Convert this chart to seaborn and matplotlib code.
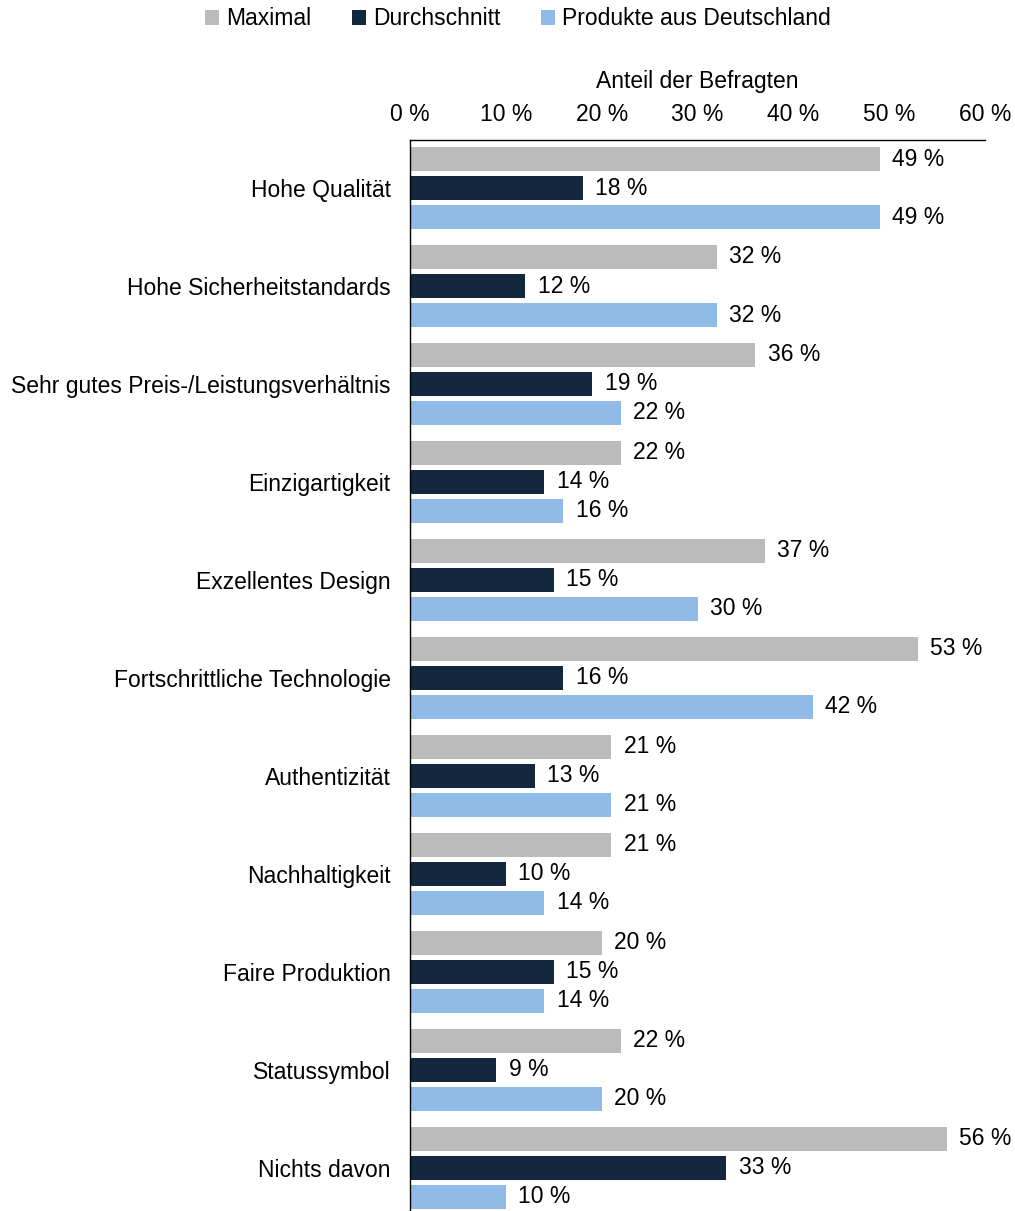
import matplotlib
matplotlib.use("Agg")
import matplotlib.pyplot as plt
import seaborn as sns
import pandas as pd
from matplotlib.patches import Patch

categories = ["Hohe Qualität", "Hohe Sicherheitstandards", "Sehr gutes Preis-/Leistungsverhältnis",
              "Einzigartigkeit", "Exzellentes Design", "Fortschrittliche Technologie",
              "Authentizität", "Nachhaltigkeit", "Faire Produktion", "Statussymbol", "Nichts davon"]
series = ["Maximal", "Durchschnitt", "Produkte aus Deutschland"]
maximal = [49, 32, 36, 22, 37, 53, 21, 21, 20, 22, 56]
durchschnitt = [18, 12, 19, 14, 15, 16, 13, 10, 15, 9, 33]
deutschland = [49, 32, 22, 16, 30, 42, 21, 14, 14, 20, 10]
xticks = [0, 10, 20, 30, 40, 50, 60]
xticklabels = [f"{t} %" for t in xticks]
colors = ["#BBBBBB", "#13283F", "#8FBBE6"]

rows = []
for name, vals in zip(series, [maximal, durchschnitt, deutschland]):
    for c, v in zip(categories, vals):
        rows.append({"Kategorie": c, "Serie": name, "Wert": v})
df = pd.DataFrame(rows)

sns.set_style("white")
plt.rcParams["font.family"] = ["Liberation Sans", "DejaVu Sans"]
plt.rcParams["text.color"] = "black"
plt.rcParams["axes.labelcolor"] = "black"
plt.rcParams["xtick.color"] = "black"
plt.rcParams["ytick.color"] = "black"
FS = 16.5

fig = plt.figure(figsize=(10.15, 12.11), dpi=100)
ax = fig.add_axes([410 / 1015, 0.0, 575 / 1015, 1 - 140 / 1211])

sns.barplot(data=df, y="Kategorie", x="Wert", hue="Serie", order=categories,
            hue_order=series, palette=colors, orient="h", width=0.888, gap=0.17,
            linewidth=0, saturation=1, errorbar=None, legend=False, ax=ax)

for cont in ax.containers:
    vals = [int(round(b.get_width())) for b in cont]
    ax.bar_label(cont, labels=[f"{v} %" for v in vals], padding=9, fontsize=FS, color="black")

ax.set_xlim(0, 60)
ax.set_ylim(10.44, -0.49)
ax.xaxis.tick_top()
ax.xaxis.set_label_position("top")
ax.set_xticks(xticks)
ax.set_xticklabels(xticklabels, fontsize=FS)
ax.set_xlabel("Anteil der Befragten", fontsize=FS, labelpad=11, color="black")
ax.set_ylabel("")
ax.tick_params(axis="x", length=0, pad=10, colors="black")
ax.tick_params(axis="y", length=0, pad=14, labelsize=FS, colors="black")
for s in ["right", "bottom"]:
    ax.spines[s].set_visible(False)
for s in ["left", "top"]:
    ax.spines[s].set_visible(True)
    ax.spines[s].set_color("black")
    ax.spines[s].set_linewidth(1.0)
ax.grid(False)

handles = [Patch(facecolor=c, edgecolor="none") for c in colors]
fig.legend(handles, series, loc="upper center", bbox_to_anchor=(518 / 1015, 1.0015),
           ncol=3, frameon=False, fontsize=FS, handlelength=0.6, handleheight=0.6,
           handletextpad=0.3, columnspacing=1.8, borderaxespad=0.0, labelcolor="black")

fig.savefig("out.png", dpi=100)
